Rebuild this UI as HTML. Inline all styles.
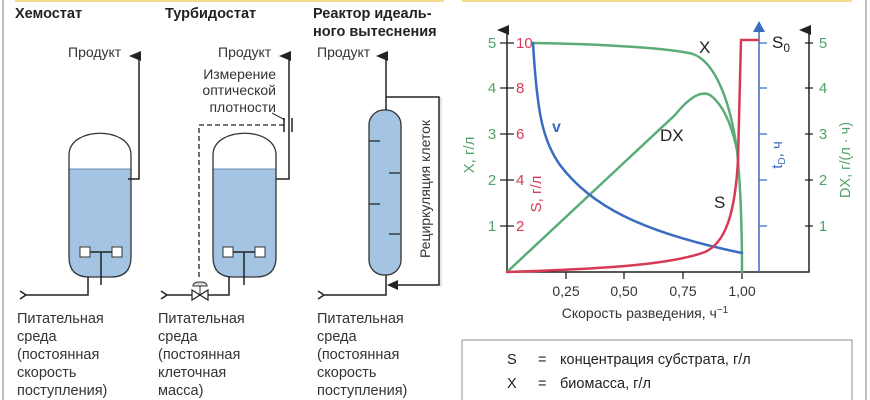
<!DOCTYPE html>
<html><head><meta charset="utf-8"><style>
html,body{margin:0;padding:0;background:#fff;}
svg{display:block;font-family:"Liberation Sans","DejaVu Sans",sans-serif;}
</style></head><body>
<svg width="870" height="400" viewBox="0 0 870 400" xmlns="http://www.w3.org/2000/svg">
<defs>
<marker id="ak" markerWidth="10" markerHeight="12" refX="5" refY="10" orient="auto-start-reverse" markerUnits="userSpaceOnUse" viewBox="0 0 10 12"><path d="M0,12 L5,0 L10,12 Z" fill="#222"/></marker>
</defs>
<line x1="3" y1="0" x2="3" y2="400" stroke="#aaa" stroke-width="1.5"/>
<rect x="15" y="0" width="429" height="2" fill="#f5dc8c"/>
<rect x="462" y="0" width="390" height="2" fill="#f5dc8c"/>
<line x1="866" y1="0" x2="866" y2="400" stroke="#aaa" stroke-width="1.5"/>
<line x1="441" y1="97" x2="441" y2="287" stroke="#ccc" stroke-width="1"/>

<g font-weight="bold" font-size="14.5" fill="#222">
<text x="15" y="18">Хемостат</text>
<text x="165" y="18">Турбидостат</text>
<text x="313" y="18">Реактор идеаль-</text>
<text x="313" y="36">ного вытеснения</text>
</g>
<g font-size="14" fill="#333">
<text x="68" y="57">Продукт</text>
<text x="218" y="57">Продукт</text>
<text x="317" y="57">Продукт</text>
<text x="276" y="79" text-anchor="end">Измерение</text>
<text x="276" y="95" text-anchor="end">оптической</text>
<text x="276" y="112" text-anchor="end">плотности</text>
</g>
<g font-size="14.5" fill="#333">
<text x="17" y="323">Питательная</text><text x="17" y="341">среда</text><text x="17" y="359">(постоянная</text><text x="17" y="377">скорость</text><text x="17" y="395">поступления)</text>
<text x="158" y="323">Питательная</text><text x="158" y="341">среда</text><text x="158" y="359">(постоянная</text><text x="158" y="377">клеточная</text><text x="158" y="395">масса)</text>
<text x="317" y="323">Питательная</text><text x="317" y="341">среда</text><text x="317" y="359">(постоянная</text><text x="317" y="377">скорость</text><text x="317" y="395">поступления)</text>
</g>

<path d="M69,169 L131,169 L131,257 Q131,277 111,277 L89,277 Q69,277 69,257 Z" fill="#a3c4e3"/>
<line x1="69" y1="169" x2="131" y2="169" stroke="#6a8cb0" stroke-width="1"/>
<path d="M69,155 C69,126 131,126 131,155 L131,257 Q131,277 111,277 L89,277 Q69,277 69,257 Z" fill="none" stroke="#333" stroke-width="1.3"/>
<path d="M128,179 L139,179 L139,56" fill="none" stroke="#222" stroke-width="1.5" marker-end="url(#ak)"/>
<path d="M84,252 L117,252 M101,252 L101,285" stroke="#222" stroke-width="1.5" fill="none"/>
<rect x="80" y="247" width="10" height="10" fill="#fff" stroke="#333"/>
<rect x="112" y="247" width="10" height="10" fill="#fff" stroke="#333"/>
<path d="M20,291 L26,295 L20,299 M26,295 L88,295 L88,277" fill="none" stroke="#222" stroke-width="1.5"/>

<path d="M213,169 L276,169 L276,257 Q276,277 256,277 L233,277 Q213,277 213,257 Z" fill="#a3c4e3"/>
<line x1="213" y1="169" x2="276" y2="169" stroke="#6a8cb0" stroke-width="1"/>
<path d="M213,155 C213,126 276,126 276,155 L276,257 Q276,277 256,277 L233,277 Q213,277 213,257 Z" fill="none" stroke="#333" stroke-width="1.3"/>
<path d="M276,179 L289,179 L289,56" fill="none" stroke="#222" stroke-width="1.5" marker-end="url(#ak)"/>
<path d="M228,252 L260,252 M244,252 L244,285" stroke="#222" stroke-width="1.5" fill="none"/>
<rect x="223" y="247" width="10" height="10" fill="#fff" stroke="#333"/>
<rect x="255" y="247" width="10" height="10" fill="#fff" stroke="#333"/>
<line x1="272" y1="113" x2="285" y2="120" stroke="#333" stroke-width="1"/>
<path d="M284,118 L284,132 M292,118 L292,132" stroke="#222" stroke-width="1.5"/>
<path d="M284,125 L199,125 L199,280" fill="none" stroke="#222" stroke-width="1.3" stroke-dasharray="5,3"/>
<path d="M193,286 Q193,282 200,282 Q207,282 207,286 Z M200,286 L200,295" fill="#ddd" stroke="#333" stroke-width="1"/>
<path d="M192,290 L208,300 L208,290 L192,300 Z" fill="#fff" stroke="#222" stroke-width="1.2"/>
<path d="M161,291 L167,295 L161,299 M167,295 L192,295 M208,295 L229,295 L229,277" fill="none" stroke="#222" stroke-width="1.5"/>

<rect x="369" y="110" width="32" height="165" rx="15" ry="15" fill="#a3c4e3" stroke="#333" stroke-width="1.3"/>
<path d="M369,141 L380,141 M389,173 L400,173 M369,204 L380,204 M389,234 L400,234" stroke="#222" stroke-width="1.3"/>
<path d="M386,110 L386,56" fill="none" stroke="#222" stroke-width="1.5" marker-end="url(#ak)"/>
<path d="M386,97 L439,97 L439,285 L398,285" fill="none" stroke="#222" stroke-width="1.5"/>
<path d="M387,285 L398,280 L398,290 Z" fill="#222"/>
<path d="M318,291 L324,295 L318,299 M324,295 L386,295 L386,275" fill="none" stroke="#222" stroke-width="1.5"/>
<text transform="translate(430,189) rotate(-90)" text-anchor="middle" font-size="14" fill="#333">Рециркуляция клеток</text>

<path d="M507,272 L507,30" stroke="#222" stroke-width="1.5" fill="none" marker-end="url(#ak)"/>
<path d="M507,272 L809,272 L809,30" stroke="#222" stroke-width="1.5" fill="none" marker-end="url(#ak)"/>
<path d="M759,272 L759,30" stroke="#3a6cc0" stroke-width="1.5" fill="none"/>
<path d="M753,32 L759,21 L765,32 Z" fill="#3a6cc0"/>
<g stroke="#222" stroke-width="1.3">
<path d="M500,43 L514,43 M500,88 L514,88 M500,134 L514,134 M500,180 L514,180 M500,226 L514,226"/>
<path d="M805,43 L813,43 M805,88 L813,88 M805,134 L813,134 M805,180 L813,180 M805,226 L813,226"/>
<path d="M566,272 L566,279 M624,272 L624,279 M683,272 L683,279 M742,272 L742,279"/>
</g>
<path d="M759,43 L767,43 M759,88 L767,88 M759,134 L767,134 M759,180 L767,180 M759,226 L767,226" stroke="#3a6cc0" stroke-width="1.3"/>
<g font-size="15" fill="#4fa36a">
<text x="492" y="48" text-anchor="middle">5</text><text x="492" y="93" text-anchor="middle">4</text><text x="492" y="139" text-anchor="middle">3</text><text x="492" y="185" text-anchor="middle">2</text><text x="492" y="231" text-anchor="middle">1</text>
<text x="823" y="48" text-anchor="middle">5</text><text x="823" y="93" text-anchor="middle">4</text><text x="823" y="139" text-anchor="middle">3</text><text x="823" y="185" text-anchor="middle">2</text><text x="823" y="231" text-anchor="middle">1</text>
</g>
<g font-size="15" fill="#d63a57">
<text x="516" y="48">10</text><text x="516" y="93">8</text><text x="516" y="139">6</text><text x="516" y="185">4</text><text x="516" y="231">2</text>
</g>
<g font-size="14" fill="#333" text-anchor="middle">
<text x="566" y="296">0,25</text><text x="624" y="296">0,50</text><text x="683" y="296">0,75</text><text x="742" y="296">1,00</text>
<text x="645" y="318">Скорость разведения, ч<tspan font-size="10" dy="-5">−1</tspan></text>
</g>
<text transform="translate(474,155) rotate(-90)" text-anchor="middle" font-size="15" fill="#4fa36a">X, г/л</text>
<text transform="translate(541,194) rotate(-90)" text-anchor="middle" font-size="15" fill="#d63a57">S, г/л</text>
<text transform="translate(850,160) rotate(-90)" text-anchor="middle" font-size="14.5" fill="#4fa36a">DX, г/(л · ч)</text>
<text transform="translate(782,155) rotate(-90)" text-anchor="middle" font-size="15" fill="#3a6cc0">t<tspan font-size="10" dy="3">D</tspan><tspan dy="-3">, ч</tspan></text>

<g fill="none" stroke-width="2.5" stroke-linecap="round">
<path d="M507,272 L675,115 Q697,88 710,95 Q728,108 737,150" stroke="#5aac78"/>
<path d="M533,43 C600,44 670,48 693,54 C715,62 730,100 737,150 C741,190 742,230 742,272" stroke="#5aac78"/>
<path d="M533,43 C537,110 542,140 560,165 C590,205 640,232 742,253" stroke="#3a6cc0"/>
<path d="M507,272 C600,269 670,265 705,252 C725,243 735,215 738,160 L741,40 L758,40" stroke="#d63a57"/>
</g>
<g font-size="17" fill="#222">
<text x="699" y="53">X</text>
<text x="660" y="141">DX</text>
<text x="714" y="208">S</text>
<text x="772" y="48">S<tspan font-size="12" dy="4">0</tspan></text>
</g>
<text x="552" y="132" font-size="16" font-weight="bold" fill="#3a6cc0">v</text>

<rect x="462" y="340" width="390" height="70" fill="#fff" stroke="#aaa" stroke-width="1.3"/>
<g font-size="14.5" fill="#222">
<text x="507" y="364">S</text><text x="538" y="364">=</text><text x="560" y="364">концентрация субстрата, г/л</text>
<text x="507" y="388">X</text><text x="538" y="388">=</text><text x="560" y="388">биомасса, г/л</text>
</g>
</svg>
</body></html>
